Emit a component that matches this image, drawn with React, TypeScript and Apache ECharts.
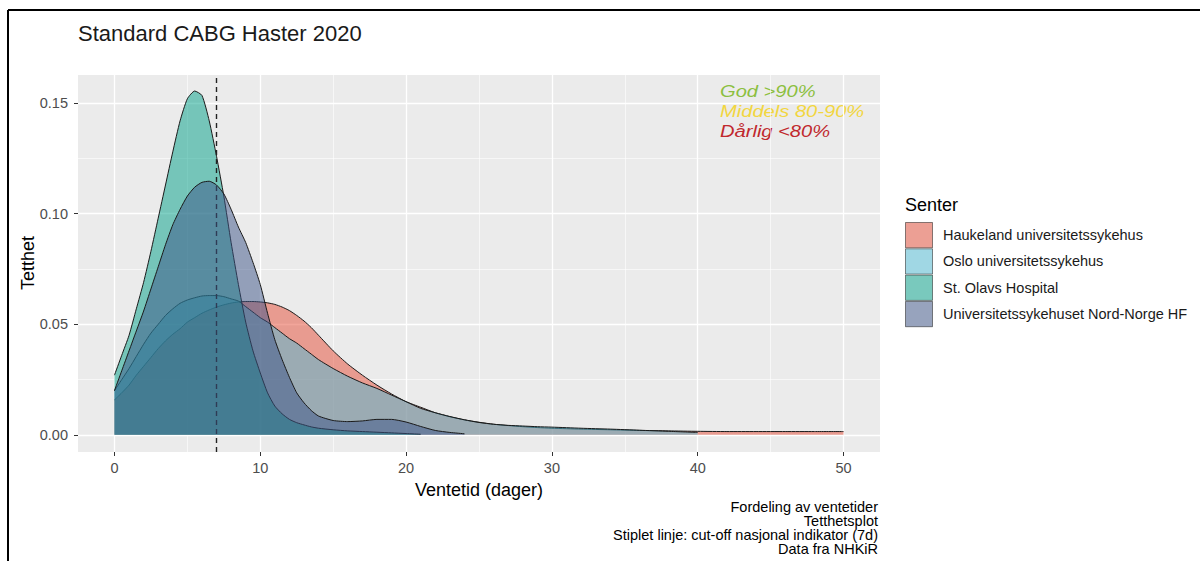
import React, { useEffect, useRef } from "react";
import * as echarts from "echarts";

// x positions (days) where the density curves were read
const xGrid = [
  0, 0.5, 1, 1.5, 2, 2.5, 3, 3.5, 4, 4.5, 5, 5.5, 6, 6.5, 7, 7.5, 8, 8.5, 9, 9.5, 10, 10.5, 11, 11.5, 12, 12.5, 13, 13.5, 14,
  15, 16, 17, 18, 19, 20, 21, 22, 23, 24, 25, 26, 27, 28, 29, 30,
  32, 34, 36, 38, 40, 42, 44, 46, 48, 50,
];

const haukeland = [
  0.0158, 0.019, 0.0225, 0.027, 0.031, 0.035, 0.039, 0.0425, 0.0455, 0.048, 0.051, 0.053, 0.055, 0.0565, 0.0578, 0.0588, 0.0596, 0.0601, 0.0603, 0.0603, 0.0601, 0.0597, 0.059, 0.0578, 0.0562, 0.054, 0.0515, 0.0485, 0.045,
  0.038, 0.032, 0.027, 0.0225, 0.0185, 0.015, 0.0125, 0.01, 0.0082, 0.0068, 0.0057, 0.0048, 0.0042, 0.0037, 0.0033, 0.003,
  0.0026, 0.0023, 0.002, 0.0018, 0.0016, 0.0015, 0.0015, 0.0015, 0.0015, 0.0015,
];

const oslo = [
  0.02, 0.025, 0.03, 0.0355, 0.041, 0.046, 0.05, 0.054, 0.057, 0.0595, 0.061, 0.062, 0.0628, 0.063, 0.063, 0.0625, 0.0615, 0.0605, 0.058, 0.0555, 0.053, 0.051, 0.0485, 0.046, 0.0435, 0.0415, 0.039, 0.0365, 0.034,
  0.03, 0.0265, 0.0235, 0.021, 0.018, 0.015, 0.012, 0.01, 0.0083, 0.0068, 0.0056, 0.0048, 0.0043, 0.004, 0.0037, 0.0035,
  0.003, 0.0026, 0.0021, 0.0016, 0.0011,
];

const stOlavs = [
  0.027, 0.036, 0.045, 0.057, 0.069, 0.083, 0.098, 0.113, 0.128, 0.142, 0.152, 0.1555, 0.1535, 0.142, 0.126, 0.108, 0.087, 0.068, 0.051, 0.038, 0.028, 0.019, 0.013, 0.0095, 0.007, 0.0055, 0.0045, 0.0036, 0.003,
  0.0023, 0.0018, 0.0015, 0.0012, 0.0009, 0.0006, 0.0003,
];

const unn = [
  0.02, 0.029, 0.038, 0.047, 0.056, 0.066, 0.076, 0.086, 0.095, 0.102, 0.108, 0.112, 0.1142, 0.1147, 0.113, 0.109, 0.102, 0.094, 0.087, 0.078, 0.068, 0.055, 0.043, 0.034, 0.026, 0.019, 0.0145, 0.011, 0.0085,
  0.0065, 0.006, 0.0063, 0.007, 0.007, 0.0058, 0.0038, 0.002, 0.0011, 0.0005,
];

const seriesNames = [
  "Haukeland universitetssykehus",
  "Oslo universitetssykehus",
  "St. Olavs Hospital",
  "Universitetssykehuset Nord-Norge HF",
];
const seriesColors = ["#E64B35", "#4DBBD5", "#00A087", "#3C5488"];

const xTicks = [0, 10, 20, 30, 40, 50];
const xMinor = [5, 15, 25, 35, 45];
const yTicks = [0, 0.05, 0.1, 0.15];
const yMinor = [0.025, 0.075, 0.125];
const cutoff = 7;

const titleText = "Standard CABG Haster 2020";
const xTitle = "Ventetid (dager)";
const yTitle = "Tetthet";
const legendTitle = "Senter";
const qualityLabels = ["God >90%", "Middels 80-90%", "Dårlig <80%"];
const qualityColors = ["#8CBF3F", "#F2D640", "#C0282D"];
const captionLines = [
  "Fordeling av ventetider",
  "Tetthetsplot",
  "Stiplet linje: cut-off nasjonal indikator (7d)",
  "Data fra NHKiR",
];

const FONT = "'Liberation Sans', Arial, Helvetica, sans-serif";

export default function App() {
  const ref = useRef<HTMLDivElement>(null);

  useEffect(() => {
    if (!ref.current) return;
    const chart = echarts.init(ref.current, null, { renderer: "svg" });

    const xMin = -2.5;
    const xMax = 52.5;
    const yMin = -0.00775;
    const yMax = 0.16275;
    const gLeft = 78;
    const gTop = 75;
    const gW = 802;
    const gH = 377;

    const valueSets = [haukeland, oslo, stOlavs, unn];
    const series: any[] = valueSets.map((vals, i) => ({
      name: seriesNames[i],
      type: "line",
      xAxisIndex: 0,
      yAxisIndex: 0,
      data: vals.map((v, j) => [xGrid[j], v]),
      showSymbol: false,
      symbol: "none",
      smooth: 0.2,
      silent: true,
      lineStyle: { color: "#1A1A1A", width: 1 },
      itemStyle: { color: seriesColors[i] },
      areaStyle: { color: seriesColors[i], opacity: 0.5 },
      z: 2 + i,
    }));
    series[3].markLine = {
      symbol: ["none", "none"],
      silent: true,
      label: { show: false },
      lineStyle: { type: [5, 4], color: "#222", width: 1.4 },
      data: [{ xAxis: cutoff }],
    };

    const txt = (x: number, y: number, text: string, style: any, extra: any = {}) => ({
      type: "text",
      x,
      y,
      silent: true,
      ...extra,
      style: { text, fontFamily: FONT, ...style },
    });

    const graphic: any[] = [
      { type: "line", silent: true, shape: { x1: 8, y1: 10, x2: 8, y2: 561 }, style: { stroke: "#000", lineWidth: 2 } },
      { type: "line", silent: true, shape: { x1: 8, y1: 10, x2: 1200, y2: 10 }, style: { stroke: "#000", lineWidth: 2 } },
      txt(78, 33, titleText, { fontSize: 22, fill: "#1A1A1A", align: "left", verticalAlign: "middle" }),
      txt(479, 490, xTitle, { fontSize: 18, fill: "#000", align: "center", verticalAlign: "middle" }),
      txt(28, 263, yTitle, { fontSize: 18, fill: "#000", align: "center", verticalAlign: "middle" }, { rotation: Math.PI / 2 }),
      txt(905, 205, legendTitle, { fontSize: 18, fill: "#000", align: "left", verticalAlign: "middle" }),
    ];

    const qy = [91, 111, 131];
    qualityLabels.forEach((t, i) => {
      graphic.push(
        txt(
          720,
          qy[i],
          t,
          { fontSize: 16.5, fontStyle: "italic", fill: qualityColors[i], align: "left", verticalAlign: "middle" },
          { scaleX: 1.22 }
        )
      );
    });

    captionLines.forEach((t, i) => {
      graphic.push(
        txt(878, 507 + i * 14, t, { fontSize: 14.5, fill: "#000", align: "right", verticalAlign: "middle" })
      );
    });

    const keyH = 26.3;
    seriesNames.forEach((n, i) => {
      const y = 222 + i * keyH;
      graphic.push({ type: "rect", silent: true, shape: { x: 905, y, width: 28, height: keyH }, style: { fill: "#F2F2F2" } });
      graphic.push({
        type: "rect",
        silent: true,
        shape: { x: 905.5, y: y + 0.5, width: 27, height: keyH - 1 },
        style: { fill: seriesColors[i], opacity: 0.5, stroke: "#1A1A1A", lineWidth: 1 },
      });
      graphic.push(txt(943, y + keyH / 2, n, { fontSize: 14.5, fill: "#1A1A1A", align: "left", verticalAlign: "middle" }));
    });

    const option: any = {
      animation: false,
      backgroundColor: "#FFFFFF",
      grid: {
        left: gLeft,
        top: gTop,
        width: gW,
        height: gH,
        show: true,
        backgroundColor: "#EBEBEB",
        borderWidth: 0,
      },
      xAxis: [
        {
          type: "value",
          gridIndex: 0,
          position: "bottom",
          min: xMin,
          max: xMax,
          axisLine: { show: false, onZero: false },
          axisTick: { show: true, customValues: xTicks, length: 4, lineStyle: { color: "#333333", width: 1 } },
          axisLabel: { show: true, customValues: xTicks, color: "#4D4D4D", fontSize: 14.5, fontFamily: FONT, margin: 8 },
          splitLine: { show: true, lineStyle: { color: "#FFFFFF", width: 1.3 } },
        },
        {
          type: "value",
          gridIndex: 0,
          position: "bottom",
          offset: 0,
          min: xMin,
          max: xMax,
          axisLine: { show: false, onZero: false },
          axisTick: { show: false, customValues: xMinor },
          axisLabel: { show: false, customValues: xMinor },
          splitLine: { show: true, lineStyle: { color: "#FFFFFF", width: 0.6 } },
        },
      ],
      yAxis: [
        {
          type: "value",
          gridIndex: 0,
          position: "left",
          min: yMin,
          max: yMax,
          axisLine: { show: false, onZero: false },
          axisTick: { show: true, customValues: yTicks, length: 4, lineStyle: { color: "#333333", width: 1 } },
          axisLabel: {
            show: true,
            customValues: yTicks,
            color: "#4D4D4D",
            fontSize: 14.5,
            fontFamily: FONT,
            margin: 10,
            formatter: (v: number) => v.toFixed(2),
          },
          splitLine: { show: true, lineStyle: { color: "#FFFFFF", width: 1.3 } },
        },
        {
          type: "value",
          gridIndex: 0,
          position: "left",
          offset: 0,
          min: yMin,
          max: yMax,
          axisLine: { show: false, onZero: false },
          axisTick: { show: false, customValues: yMinor },
          axisLabel: { show: false, customValues: yMinor },
          splitLine: { show: true, lineStyle: { color: "#FFFFFF", width: 0.6 } },
        },
      ],
      series,
      graphic,
    };

    chart.setOption(option);
    return () => {
      chart.dispose();
    };
  }, []);

  return (
    <div
      ref={ref}
      style={{ position: "absolute", left: 0, top: 0, width: 1200, height: 561, background: "#fff" }}
    />
  );
}
